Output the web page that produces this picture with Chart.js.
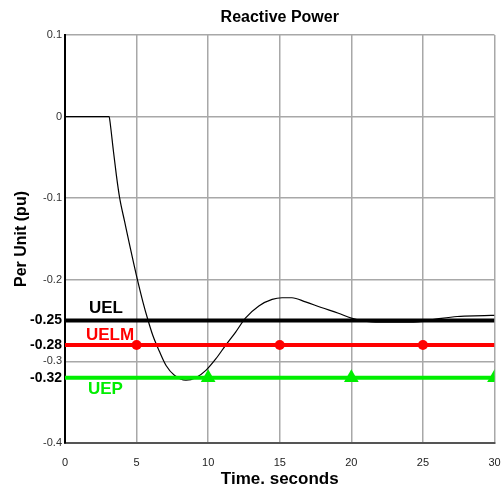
<!DOCTYPE html>
<html>
<head>
<meta charset="utf-8">
<script src="https://cdn.jsdelivr.net/npm/chart.js@4/dist/chart.umd.min.js"></script>
<style>
  html, body { margin: 0; padding: 0; background: #fff; overflow: hidden; }
  #wrap { width: 503px; height: 488px; position: relative; }
  canvas { display: block; }
</style>
</head>
<body>
<div id="wrap"><canvas id="chart"></canvas></div>
<script>
// --- Data ---
const timeS = [0, 3.0, 3.08, 3.17, 3.36, 3.59, 3.82, 4.17, 4.51, 4.98, 5.44, 5.79, 6.13, 6.6, 7.06, 7.64, 8.45, 9.14, 9.84, 10.53, 11.23, 11.92, 12.6, 13.54, 14.47, 15.16, 15.85, 16.8, 17.9, 19.1, 20.0, 21.4, 23.0, 24.65, 26.0, 27.4, 29.3, 30];
const reactivePu = [0, 0, 0, -0.010, -0.039, -0.072, -0.100, -0.129, -0.157, -0.194, -0.227, -0.249, -0.268, -0.288, -0.305, -0.317, -0.323, -0.320, -0.311, -0.297, -0.280, -0.264, -0.247, -0.232, -0.224, -0.222, -0.222, -0.227, -0.234, -0.241, -0.247, -0.2515, -0.252, -0.2515, -0.248, -0.245, -0.244, -0.2435];

const limitNames = ["UEL", "UELM", "UEP"];
const limitLevels = [-0.25, -0.28, -0.32];
const uelmMarkerT = [5, 15, 25];
const uepMarkerT = [10, 20, 30];

const xTicks = [0, 5, 10, 15, 20, 25, 30];
const yGridTicks = [0.1, 0, -0.1, -0.2, -0.3, -0.4];

// --- Helpers ---
const FONT = "'Liberation Sans', Arial, sans-serif";
const limitColors = ["#000000", "#ff0000", "#00ee00"];
const flat = (level) => [{x: 0, y: level}, {x: 30, y: level}];
const isLimit = (c) => !!(c && c.tick) && limitLevels.includes(c.tick.value);

// title over the plot area + the limit names
const textPlugin = {
    id: "texts",
    afterDraw(chart) {
        const {ctx, chartArea, scales} = chart;
        ctx.save();
        ctx.fillStyle = "#000";
        ctx.font = "bold 16px " + FONT;
        ctx.textAlign = "center";
        ctx.textBaseline = "middle";
        ctx.fillText("Reactive Power", (chartArea.left + chartArea.right) / 2, 18);

        ctx.font = "bold 17px " + FONT;
        ctx.textAlign = "left";
        const offs = [[24, -12], [21, -10], [23, 12]];
        limitNames.forEach((name, i) => {
            ctx.fillStyle = limitColors[i];
            const y = scales.y.getPixelForValue(limitLevels[i]);
            ctx.fillText(name, chartArea.left + offs[i][0], y + offs[i][1]);
        });
        ctx.restore();
    }
};

new Chart(document.getElementById("chart"), {
    type: "scatter",
    data: {
        datasets: [
            {
                label: "UELM markers",
                data: uelmMarkerT.map(t => ({x: t, y: limitLevels[1]})),
                showLine: false,
                pointRadius: 5,
                pointBackgroundColor: limitColors[1],
                pointBorderWidth: 0
            },
            {
                label: "UEP markers",
                data: uepMarkerT.map(t => ({x: t, y: limitLevels[2]})),
                showLine: false,
                pointStyle: "triangle",
                pointRadius: 8.5,
                pointBackgroundColor: limitColors[2],
                pointBorderWidth: 0
            },
            {
                label: "UELM",
                data: flat(limitLevels[1]),
                showLine: true,
                borderColor: limitColors[1],
                borderWidth: 4,
                pointRadius: 0
            },
            {
                label: "UEP",
                data: flat(limitLevels[2]),
                showLine: true,
                borderColor: limitColors[2],
                borderWidth: 4,
                pointRadius: 0
            },
            {
                label: "Q",
                data: timeS.map((t, i) => ({x: t, y: reactivePu[i]})),
                showLine: true,
                borderColor: "#000",
                borderWidth: 1.2,
                pointRadius: 0,
                cubicInterpolationMode: "monotone"
            },
            {
                label: "UEL",
                data: flat(limitLevels[0]),
                showLine: true,
                borderColor: limitColors[0],
                borderWidth: 4,
                pointRadius: 0
            }
        ]
    },
    options: {
        responsive: true,
        maintainAspectRatio: false,
        animation: false,
        layout: { padding: { top: 35, right: 0, left: 0, bottom: 0 } },
        plugins: { legend: { display: false }, tooltip: { enabled: false }, title: { display: false } },
        scales: {
            x: {
                type: "linear",
                min: 0, max: 30,
                afterBuildTicks: s => { s.ticks = xTicks.map(v => ({value: v})); },
                afterFit: s => { s.height = 45; s.paddingLeft = 0; s.paddingRight = 3; },
                grid: { color: "#a8a8a8", lineWidth: 1.5, drawTicks: false },
                border: { color: "#555", width: 2 },
                ticks: { padding: 13, color: "#222", font: { family: FONT, size: 11 } },
                title: {
                    display: true, text: "Time. seconds", color: "#000",
                    font: { family: FONT, size: 17, weight: "bold", lineHeight: 1 },
                    padding: { top: 0, bottom: 0 }
                }
            },
            y: {
                type: "linear",
                min: -0.4, max: 0.1,
                afterBuildTicks: s => {
                    s.ticks = yGridTicks.concat(limitLevels).map(v => ({value: v}));
                },
                afterFit: s => { s.width = 65; s.paddingTop = 0; s.paddingBottom = 0; },
                grid: {
                    color: c => isLimit(c) ? "rgba(0,0,0,0)" : "#a8a8a8",
                    lineWidth: 1.5,
                    drawTicks: false
                },
                border: { color: "#000", width: 2 },
                ticks: {
                    autoSkip: false,
                    padding: 3,
                    callback: v => String(v),
                    color: c => isLimit(c) ? "#000" : "#333",
                    font: c => isLimit(c)
                        ? { family: FONT, size: 14, weight: "bold" }
                        : { family: FONT, size: 11 }
                },
                title: {
                    display: true, text: "Per Unit (pu)", color: "#000",
                    font: { family: FONT, size: 16, weight: "bold", lineHeight: 1.2 },
                    padding: { top: 12, bottom: 0 }
                }
            }
        }
    },
    plugins: [textPlugin]
});
</script>
</body>
</html>
